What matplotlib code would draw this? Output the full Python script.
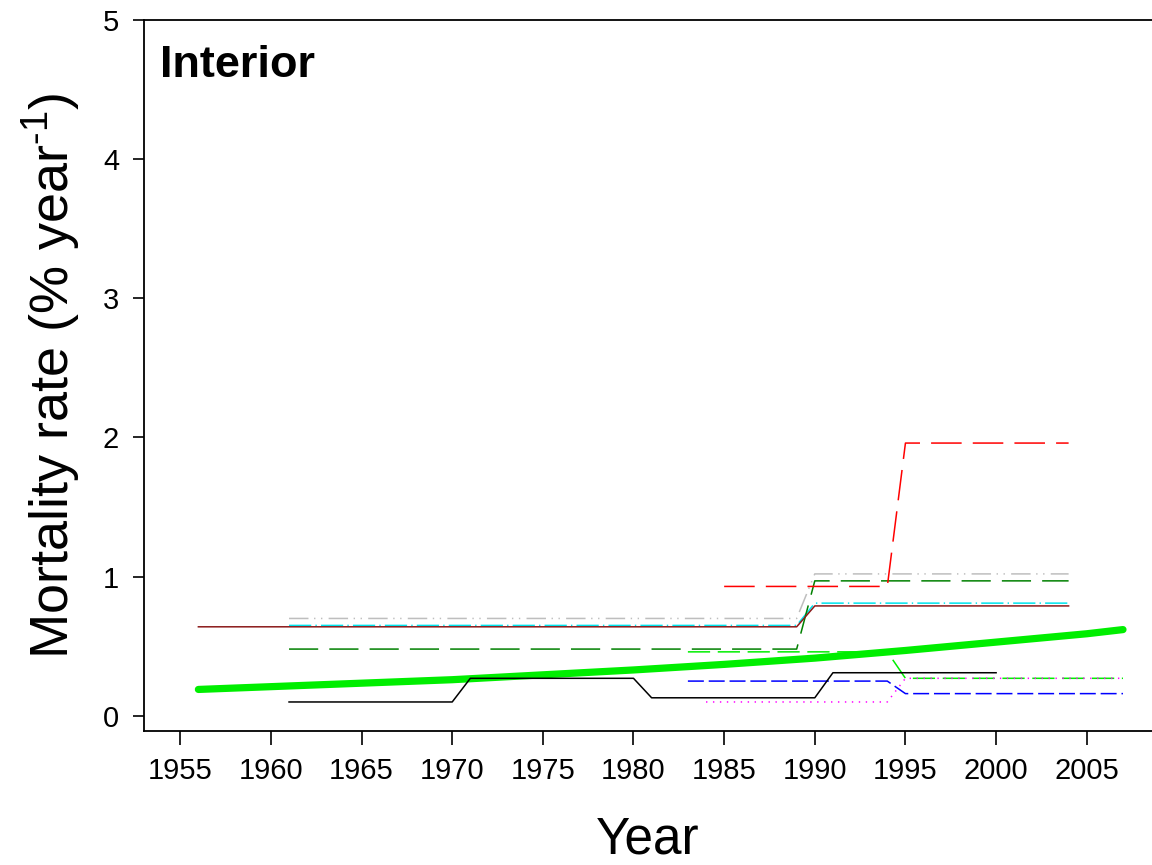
import matplotlib
matplotlib.use('Agg')
import matplotlib.pyplot as plt

plt.rcParams['font.family'] = ['Liberation Sans', 'DejaVu Sans']
plt.rcParams['mathtext.fontset'] = 'custom'
plt.rcParams['mathtext.rm'] = 'Liberation Sans'
plt.rcParams['mathtext.it'] = 'Liberation Sans'
plt.rcParams['lines.scale_dashes'] = False

#各サイトの死亡率 (年, 値)
black_x = [1961, 1970, 1971, 1980, 1981, 1990, 1991, 2000]
black_y = [0.10, 0.10, 0.27, 0.27, 0.13, 0.13, 0.31, 0.31]

maroon_x = [1956, 1989, 1990, 2004]
maroon_y = [0.64, 0.64, 0.79, 0.79]

cyan_x = [1961, 1989, 1990, 2004]
cyan_y = [0.65, 0.65, 0.81, 0.81]

grey_x = [1961, 1989, 1990, 2004]
grey_y = [0.70, 0.70, 1.02, 1.02]

dgreen_x = [1961, 1989, 1990, 2004]
dgreen_y = [0.48, 0.48, 0.97, 0.97]

red_x = [1985, 1994, 1995, 2004]
red_y = [0.93, 0.93, 1.96, 1.96]

lime_x = [1983, 1994, 1995, 2007]
lime_y = [0.46, 0.46, 0.27, 0.27]

magenta_x = [1984, 1994, 1995, 2007]
magenta_y = [0.10, 0.10, 0.27, 0.27]

blue_x = [1983, 1994, 1995, 2007]
blue_y = [0.25, 0.25, 0.16, 0.16]

#全体の傾向
trend_x = [1956, 1960, 1965, 1970, 1975, 1980, 1985, 1990, 1995, 2000, 2005, 2007]
trend_y = [0.19, 0.21, 0.235, 0.26, 0.295, 0.33, 0.37, 0.415, 0.47, 0.53, 0.59, 0.62]

xticks = [1955, 1960, 1965, 1970, 1975, 1980, 1985, 1990, 1995, 2000, 2005]
yticks = [0, 1, 2, 3, 4, 5]

fig = plt.figure(figsize=(11.52, 8.65), dpi=100)
ax = fig.add_axes([0.125, 0.155, 0.875, 0.822])

lw = 1.1
ax.plot(trend_x, trend_y, color='#00ee00', lw=5.2, solid_capstyle='round', zorder=2)
ax.plot(cyan_x, cyan_y, color='#00e5ee', lw=lw, linestyle=(0, (16, 3, 1, 3)), zorder=3)
ax.plot(maroon_x, maroon_y, color='#8b1a1a', lw=lw, zorder=4)
ax.plot(grey_x, grey_y, color='#bebebe', lw=lw, linestyle=(0, (14, 4, 1, 4, 1, 4.5)), zorder=3)
ax.plot(dgreen_x, dgreen_y, color='#008000', lw=lw, linestyle=(0, (21, 8)), zorder=3)
ax.plot(red_x, red_y, color='#ff0000', lw=lw, linestyle=(0, (22, 8)), zorder=3)
ax.plot(lime_x, lime_y, color='#00ee00', lw=lw, linestyle=(0, (16, 5.5)), zorder=3)
ax.plot(magenta_x, magenta_y, color='#ff00ff', lw=lw, linestyle=(0, (1, 4)), zorder=3)
ax.plot(blue_x, blue_y, color='#0000ff', lw=lw, linestyle=(0, (11.5, 3.5)), zorder=3)
ax.plot(black_x, black_y, color='black', lw=lw, zorder=3)

ax.set_xlim(1953, 2008.6)
ax.set_ylim(-0.108, 5)
ax.set_xticks(xticks)
ax.set_yticks(yticks)
ax.tick_params(axis='x', direction='out', length=10, width=1.2, pad=9, labelsize=21)
ax.tick_params(axis='y', direction='out', length=8, width=1.2, pad=10, labelsize=21)

for s in ['left', 'bottom', 'top']:
    ax.spines[s].set_linewidth(1.3)
ax.spines['right'].set_visible(False)

ax.set_xlabel('Year', fontsize=37, labelpad=22)
ax.set_ylabel('Mortality rate (% year$^{\\text{-1}}$)', fontsize=39, labelpad=14)

ax.text(0.016, 0.965, 'Interior', transform=ax.transAxes, fontsize=32.5,
        fontweight='bold', va='top', ha='left')

plt.savefig('out.png', dpi=100)
